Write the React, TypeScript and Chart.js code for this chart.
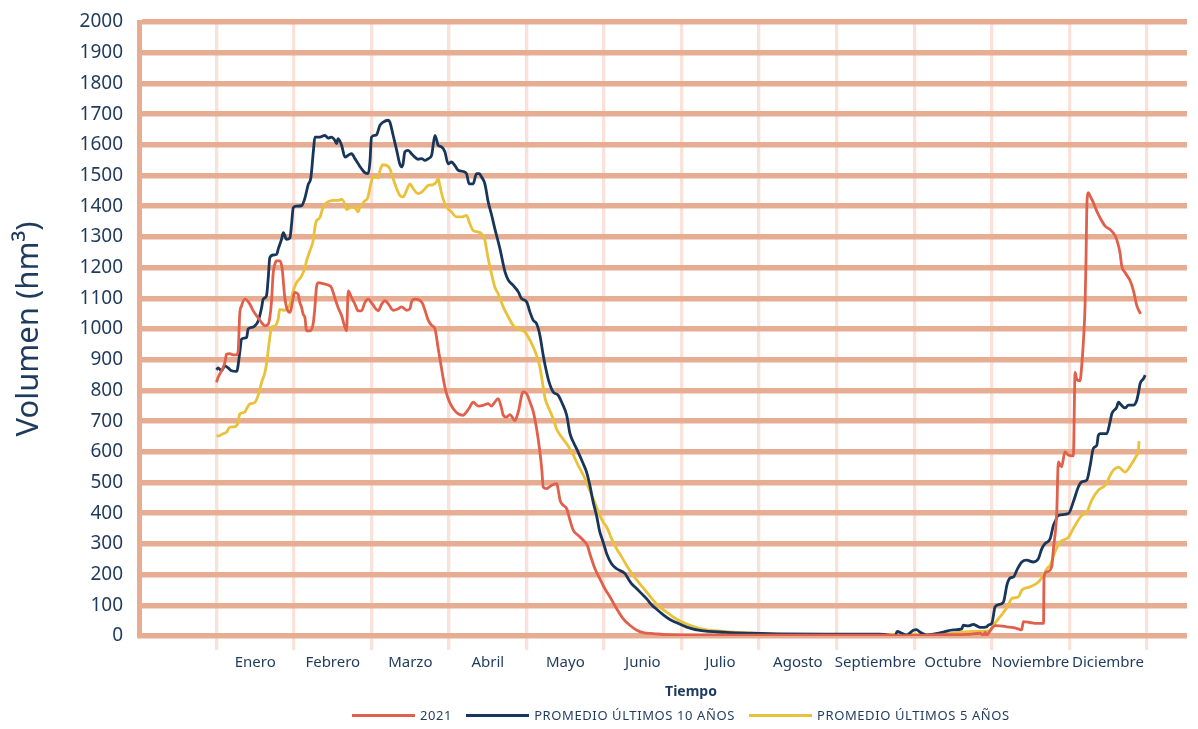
import React, { useEffect, useRef } from "react";
import { Chart, registerables } from "chart.js";

Chart.register(...registerables);

const MONTHS = ["Enero", "Febrero", "Marzo", "Abril", "Mayo", "Junio", "Julio", "Agosto", "Septiembre", "Octubre", "Noviembre", "Diciembre"];
const SERIES_LABELS = ["2021", "PROMEDIO ÚLTIMOS 10 AÑOS", "PROMEDIO ÚLTIMOS 5 AÑOS"];
const Y_MIN = 0;
const Y_MAX = 2000;
const Y_STEP = 100;

// day of year (0 = 1 Jan) and volume (hm³)
const DAYS_2021 = [0, 0.6, 2, 3.3, 3.9, 5.2, 6.5, 7.9, 8.5, 9.1, 9.8, 11.1, 13.1, 14.4, 16.3, 17.7, 19, 20.3, 20.9, 21.6, 22.2, 22.9, 23.5, 24.8, 25.7, 26.8, 27.5, 28.8, 29.4, 30.1, 30.7, 32, 32.7, 33.4, 34, 34.7, 35.3, 36.6, 37.9, 38.6, 39.2, 39.9, 41.8, 43.8, 45.1, 46.4, 47.7, 49.1, 50.4, 51, 51.7, 53, 54.3, 55.6, 56.9, 58.2, 59.5, 60.8, 62.1, 63.4, 64.8, 66.1, 67.4, 69.3, 71.3, 72.6, 74.6, 75.9, 76.5, 77.8, 79.8, 80.9, 81.8, 83.1, 84.4, 85.7, 87, 88.3, 89.6, 90.9, 92.9, 94.8, 96.8, 98.1, 99.4, 100.7, 102.7, 104.6, 106.6, 107.9, 109.2, 110.5, 111.9, 112.5, 113.8, 115.1, 117.1, 118.4, 120.3, 121.7, 123, 124.3, 125.6, 126.9, 127.6, 128.2, 129.5, 131.5, 133.5, 134.1, 134.8, 136, 137.4, 138.7, 140, 141.9, 143.9, 145.5, 146.5, 148.5, 150.4, 152.4, 154.4, 157, 159.6, 162.2, 164.9, 167.4, 171.4, 176.6, 189.7, 210, 240, 262, 268, 275, 285, 294.4, 299.6, 300.9, 301.6, 302.2, 302.9, 304.2, 305.5, 307.4, 310.1, 312.7, 314.6, 315.9, 316.6, 319.2, 321.8, 324.5, 324.7, 325.8, 327.7, 328.4, 329.7, 330.3, 331.6, 332.9, 334.3, 336.2, 336.9, 337.5, 338.8, 339.5, 340.2, 340.8, 341.2, 341.5, 342.1, 342.8, 344.1, 345.4, 346.7, 348.7, 350.6, 351.9, 353.2, 354.5, 355.2, 356.5, 358.5, 359.8, 361.1, 362.6];
const VOL_2021 = [826, 842, 864, 891, 918, 920, 916, 916, 929, 1048, 1075, 1097, 1081, 1059, 1037, 1021, 1010, 1016, 1037, 1092, 1178, 1211, 1222, 1222, 1200, 1102, 1070, 1054, 1070, 1102, 1119, 1113, 1086, 1070, 1048, 1037, 994, 994, 1016, 1070, 1135, 1151, 1148, 1143, 1135, 1102, 1070, 1043, 1005, 994, 1124, 1102, 1081, 1059, 1059, 1086, 1097, 1086, 1070, 1059, 1081, 1092, 1082, 1061, 1066, 1072, 1061, 1066, 1088, 1097, 1093, 1082, 1061, 1028, 1012, 1001, 936, 871, 811, 773, 740, 724, 719, 730, 746, 762, 749, 751, 757, 749, 762, 773, 740, 719, 713, 721, 702, 730, 795, 789, 762, 730, 675, 599, 545, 485, 480, 491, 496, 475, 442, 426, 415, 377, 344, 328, 312, 295, 268, 219, 187, 154, 127, 89, 56, 35, 19, 11, 8, 4, 2, 3, 3, 3, 1, 2, 4, 5, 9, 3, 12, 3, 9, 25, 34, 33, 30, 27, 23, 20, 47, 44, 41, 41, 193, 209, 225, 285, 404, 567, 551, 600, 589, 587, 859, 837, 831, 881, 967, 1076, 1238, 1401, 1444, 1433, 1411, 1384, 1362, 1335, 1324, 1313, 1292, 1249, 1205, 1184, 1157, 1124, 1076, 1049];

const DAYS_10Y = [0, 0.6, 2, 3.3, 4.6, 5.9, 7.9, 9.2, 9.8, 11.8, 12.4, 13.7, 15, 16.4, 17.7, 18.3, 19.6, 20.3, 20.9, 22.3, 23.6, 24.2, 25.5, 26.2, 27.5, 28.8, 29.5, 30.1, 31.4, 33.4, 34.7, 36, 37, 38, 38.6, 40.5, 42.5, 43.8, 45.1, 46.4, 47.1, 47.7, 49.1, 50.4, 51.7, 53, 54.3, 55.6, 56.9, 58.2, 59.5, 60.2, 60.8, 62.1, 62.8, 64.1, 65.4, 67.4, 68, 69.3, 70.7, 71.9, 72.6, 73.2, 73.9, 75.2, 76.5, 77.8, 79.1, 80.5, 81.8, 83.1, 84.4, 85.7, 87, 88.3, 89.6, 90.9, 92.2, 93.5, 94.8, 96.8, 98.1, 99.1, 100.7, 102, 103.1, 104, 105.3, 106.6, 107.9, 109.2, 111.2, 113.2, 114.5, 116.4, 118.4, 119.7, 121.7, 123, 124.3, 125.6, 126.9, 128.2, 129.5, 130.5, 132.1, 134.1, 135.4, 137.4, 138.7, 140, 141.9, 143.9, 145.2, 146.5, 147.8, 149.1, 150.4, 151.7, 153.1, 155, 157, 160.3, 161.5, 162.9, 164.9, 166.8, 168.8, 170.7, 172.7, 175.3, 177.9, 180.6, 184.5, 189.7, 200, 210, 220, 240, 260, 264.9, 266.2, 267.1, 268.9, 270.8, 273.4, 274.7, 276, 278.7, 281.3, 285.2, 289.1, 292.4, 293, 295, 297, 298.3, 299.6, 302.2, 302.9, 304.2, 305.5, 306.8, 308.8, 309.4, 310.1, 311.4, 312.7, 314, 316, 317.9, 320.5, 322.5, 323.8, 325.1, 327.1, 328.4, 329, 330.3, 334.3, 336.2, 338.2, 339.5, 341.5, 342.8, 344.1, 345.4, 346, 346.7, 349.3, 350.6, 351.3, 353.2, 353.9, 354.5, 356.5, 357.8, 359.7, 361.1, 361.7, 362.4, 363.7, 364.4];
const VOL_10Y = [867, 873, 864, 880, 873, 864, 862, 929, 967, 972, 1000, 1005, 1010, 1027, 1070, 1097, 1108, 1167, 1232, 1241, 1243, 1260, 1292, 1314, 1292, 1297, 1346, 1395, 1400, 1402, 1427, 1471, 1492, 1579, 1625, 1625, 1631, 1622, 1625, 1615, 1604, 1620, 1598, 1560, 1566, 1571, 1555, 1538, 1522, 1509, 1506, 1544, 1625, 1631, 1633, 1663, 1674, 1680, 1674, 1631, 1582, 1538, 1528, 1538, 1577, 1582, 1571, 1560, 1553, 1555, 1549, 1555, 1566, 1631, 1598, 1593, 1577, 1538, 1544, 1533, 1517, 1513, 1506, 1473, 1473, 1506, 1506, 1495, 1473, 1414, 1373, 1327, 1262, 1186, 1159, 1142, 1121, 1099, 1088, 1055, 1028, 1017, 979, 914, 860, 827, 795, 784, 762, 719, 659, 632, 599, 561, 534, 491, 436, 393, 339, 306, 268, 235, 219, 203, 187, 170, 154, 138, 121, 102, 87, 69, 54, 43, 29, 18, 12, 9, 7, 6, 6, 2, 0, 15, 9, 3, 19, 21, 13, 3, 6, 13, 20, 23, 35, 33, 38, 33, 28, 30, 36, 41, 95, 102, 111, 133, 165, 189, 192, 214, 241, 247, 241, 252, 284, 301, 317, 361, 372, 393, 399, 437, 486, 502, 508, 555, 612, 621, 653, 659, 659, 697, 724, 745, 762, 757, 743, 752, 752, 768, 790, 822, 838, 850];

const DAYS_5Y = [0, 1.3, 2.6, 3.9, 5.2, 7.2, 8.5, 9.1, 11.1, 11.8, 13.1, 15, 16.3, 17.7, 19, 19.6, 20.9, 21.6, 22.9, 24.2, 24.8, 26.8, 28.1, 28.8, 30.1, 31.4, 33.4, 34.7, 35.3, 36.6, 37.9, 38.6, 39.2, 40.5, 41.5, 42.5, 44.5, 45.8, 47.7, 49.1, 50.4, 51, 53, 54.3, 55.6, 56.2, 58.2, 59.3, 60.2, 60.8, 61.5, 62.8, 63.4, 64.1, 65.2, 66.7, 68, 69.3, 70.7, 71.9, 73.2, 74.6, 75.9, 77.2, 79.1, 80.5, 81.8, 83.1, 85, 86.3, 87, 87.6, 88.9, 90.3, 92.2, 94.2, 96.2, 98.1, 99.4, 100.7, 102.7, 104, 105.3, 106.6, 107.9, 109.2, 110.5, 112.5, 114.5, 116.4, 118.4, 121, 122.3, 124.3, 125.6, 126.9, 128.2, 128.9, 130.2, 132.1, 133.4, 135.4, 137.4, 140, 141.9, 143.3, 144.6, 145.9, 147.8, 149.1, 150.4, 151.7, 153.1, 155, 157, 159, 160.9, 163.5, 166.1, 168.8, 171.4, 174, 176.6, 179.2, 182.5, 185.8, 189.7, 200, 210, 220, 240, 260, 263, 264.9, 266.2, 268.2, 272.1, 274.1, 276, 281.3, 285.2, 289.1, 293, 297, 299.6, 302, 303.5, 304.8, 307.4, 310.7, 312, 314.6, 316, 319.2, 322.5, 324.4, 325.8, 327.1, 329, 331, 334.3, 336.9, 339.5, 341.5, 343.4, 346, 348.7, 350, 351.9, 353.9, 356.5, 359.1, 361.1, 361.7, 362];
const VOL_5Y = [652, 653, 659, 664, 680, 682, 696, 723, 729, 740, 756, 761, 783, 826, 859, 886, 972, 1005, 1010, 1032, 1064, 1061, 1070, 1081, 1124, 1151, 1173, 1200, 1221, 1254, 1287, 1330, 1352, 1362, 1389, 1406, 1417, 1419, 1419, 1422, 1406, 1389, 1397, 1395, 1382, 1395, 1417, 1427, 1460, 1482, 1495, 1495, 1492, 1515, 1535, 1533, 1522, 1490, 1457, 1435, 1430, 1452, 1473, 1457, 1441, 1446, 1457, 1468, 1470, 1479, 1490, 1468, 1424, 1397, 1381, 1365, 1365, 1370, 1343, 1321, 1316, 1310, 1289, 1229, 1180, 1137, 1115, 1072, 1039, 1012, 1001, 990, 974, 941, 914, 875, 810, 775, 745, 708, 675, 648, 626, 589, 556, 534, 512, 485, 447, 420, 393, 371, 355, 317, 284, 257, 230, 198, 170, 143, 116, 94, 78, 62, 46, 35, 24, 14, 9, 6, 4, 2, 4, 6, 3, 0, 1, 7, 3, 3, 7, 9, 13, 15, 15, 16, 18, 35, 62, 100, 122, 127, 149, 160, 176, 198, 219, 230, 274, 306, 322, 361, 393, 404, 442, 475, 491, 512, 540, 550, 534, 561, 589, 600, 635];

const NAVY = "#1E3a5c";
const SALMON = "#E6AD93";
const PINK = "#FAE1DA";
const C2021 = "#E0604B";
const C10 = "#17365A";
const C5 = "#E9C13A";
const FONT = "'Noto Sans', sans-serif";

const MONTH_LEN = 365 / 12;
const X_MIN = -MONTH_LEN;
const X_MAX = 380.8;

const toPoints = (d: number[], v: number[]) => d.map((x, i) => ({ x, y: v[i] }));

export default function App() {
  const ref = useRef<HTMLCanvasElement>(null);

  useEffect(() => {
    Chart.defaults.font.family = FONT;
    const chart = new Chart(ref.current as HTMLCanvasElement, {
      type: "line",
      data: {
        datasets: [
          { label: SERIES_LABELS[0], data: toPoints(DAYS_2021, VOL_2021), borderColor: C2021, backgroundColor: C2021 },
          { label: SERIES_LABELS[1], data: toPoints(DAYS_10Y, VOL_10Y), borderColor: C10, backgroundColor: C10 },
          { label: SERIES_LABELS[2], data: toPoints(DAYS_5Y, VOL_5Y), borderColor: C5, backgroundColor: C5 },
        ],
      },
      options: {
        animation: false,
        responsive: true,
        maintainAspectRatio: false,
        layout: { padding: { top: 14, right: 3, bottom: 49, left: 0 } },
        plugins: { legend: { display: false }, tooltip: { enabled: false } },
        elements: {
          point: { radius: 0 },
          line: { borderWidth: 2.8, cubicInterpolationMode: "monotone" },
        },
        scales: {
          x: {
            type: "linear",
            min: X_MIN,
            max: X_MAX,
            weight: 0,
            afterBuildTicks: (s: any) => {
              s.ticks = Array.from({ length: 13 }, (_, i) => ({ value: i * MONTH_LEN }));
            },
            afterFit: (s: any) => {
              s.height = 14;
              s.paddingLeft = 0;
              s.paddingRight = 0;
            },
            ticks: { display: false },
            grid: { color: PINK, lineWidth: 3.3, drawTicks: true, tickLength: 14, z: -2 },
            border: { display: false },
          },
          x2: {
            type: "linear",
            position: "bottom",
            min: X_MIN,
            max: X_MAX,
            weight: 1,
            afterBuildTicks: (s: any) => {
              s.ticks = MONTHS.map((_, i) => ({ value: (i + 0.5) * MONTH_LEN }));
            },
            afterFit: (s: any) => {
              s.height = 22;
              s.paddingLeft = 0;
              s.paddingRight = 0;
            },
            ticks: {
              autoSkip: false,
              maxRotation: 0,
              padding: 4,
              color: NAVY,
              font: { size: 15, family: FONT },
              callback: (_v: any, i: number) => MONTHS[i],
            },
            grid: { display: false, drawTicks: false },
            border: { display: false },
          },
          y: {
            min: Y_MIN,
            max: Y_MAX,
            afterFit: (s: any) => {
              s.width = 131;
              s.paddingTop = 0;
              s.paddingBottom = 0;
            },
            ticks: {
              stepSize: Y_STEP,
              padding: 16,
              color: NAVY,
              font: { size: 19, family: FONT },
              callback: (v: any) => String(v),
            },
            grid: { color: SALMON, lineWidth: 5.5, drawTicks: false },
            border: { display: true, color: SALMON, width: 5 },
            title: {
              display: true,
              text: "Volumen (hm³)",
              color: NAVY,
              font: { size: 31, family: FONT },
              padding: { top: 3, bottom: 0 },
            },
          },
        },
      } as any,
    });
    return () => chart.destroy();
  }, []);

  const legendItems = [
    { label: SERIES_LABELS[0], color: C2021 },
    { label: SERIES_LABELS[1], color: C10 },
    { label: SERIES_LABELS[2], color: C5 },
  ];

  return (
    <div style={{ position: "relative", width: 1182, height: 713, fontFamily: FONT }}>
      <div style={{ position: "absolute", left: 0, top: 0, width: 1182, height: 713 }}>
        <canvas ref={ref} />
      </div>
      <div
        style={{
          position: "absolute",
          left: 683,
          top: 682,
          transform: "translate(-50%, -50%)",
          fontWeight: 700,
          fontSize: 14,
          color: NAVY,
          whiteSpace: "nowrap",
        }}
      >
        Tiempo
      </div>
      <div
        style={{
          position: "absolute",
          left: 344,
          top: 699,
          height: 16,
          lineHeight: "16px",
          display: "flex",
          alignItems: "center",
          whiteSpace: "nowrap",
          fontSize: 13,
          letterSpacing: 0.6,
          color: NAVY,
        }}
      >
        {legendItems.map((it, i) => (
          <div key={i} style={{ display: "flex", alignItems: "center", marginLeft: i === 0 ? 0 : 14 }}>
            <span style={{ display: "inline-block", width: 63, height: 3, background: it.color }} />
            <span style={{ marginLeft: 5 }}>{it.label}</span>
          </div>
        ))}
      </div>
    </div>
  );
}
